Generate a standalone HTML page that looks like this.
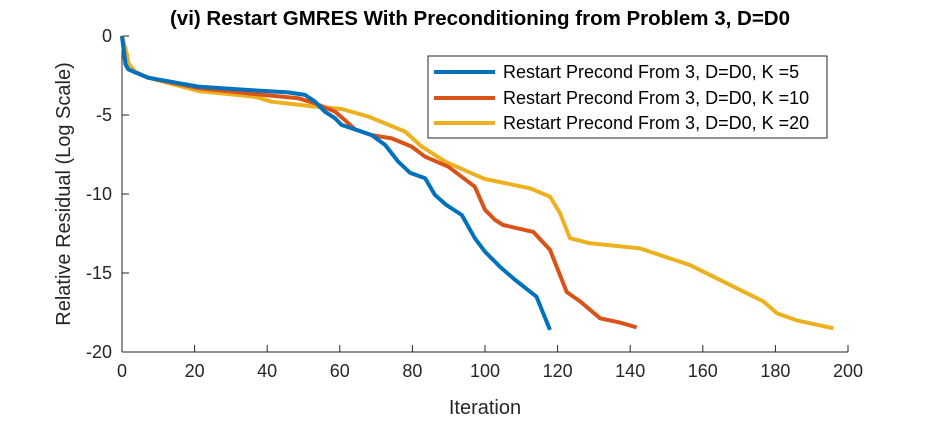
<!DOCTYPE html>
<html><head><meta charset="utf-8"><style>
body{margin:0;background:#fff;width:938px;height:420px;overflow:hidden}
svg text{font-family:"Liberation Sans",Arial,sans-serif;fill:#262626}
</style></head><body>
<svg id="chart" width="938" height="420" xmlns="http://www.w3.org/2000/svg">
<text x="480" y="25" text-anchor="middle" font-size="20.5" font-weight="bold" style="fill:#000">(vi) Restart GMRES With Preconditioning from Problem 3, D=D0</text>
<g id="axes"></g>
<g id="series"></g>
<text x="485" y="414" text-anchor="middle" font-size="20">Iteration</text>
<text transform="translate(70,194) rotate(-90)" text-anchor="middle" font-size="20">Relative Residual (Log Scale)</text>
<g>
<rect x="428" y="56" width="399" height="82" fill="#fff" stroke="#262626" stroke-width="1"/>
<line x1="434" y1="72" x2="495" y2="72" stroke="#0072BD" stroke-width="4"/>
<text x="503" y="78" font-size="18" style="fill:#000">Restart Precond From 3, D=D0, K =5</text>
<line x1="434" y1="98" x2="495" y2="98" stroke="#D95319" stroke-width="4"/>
<text x="503" y="104" font-size="18" style="fill:#000">Restart Precond From 3, D=D0, K =10</text>
<line x1="434" y1="123" x2="495" y2="123" stroke="#EDB120" stroke-width="4"/>
<text x="503" y="129" font-size="18" style="fill:#000">Restart Precond From 3, D=D0, K =20</text>
</g>
</svg>
<script>
const xTicks=[0,20,40,60,80,100,120,140,160,180,200];
const yTicks=[0,-5,-10,-15,-20];
const k5X=[0,1,1.7,3.6,7.2,21,34.8,45.8,50.4,53.2,55.9,58.7,60.5,64.2,68.8,72.5,76.1,79.3,83.5,86.2,89.4,93.6,97.2,100,102.8,104.1,107.8,114.2,117.9];
const k5Y=[0,-1.8,-2.1,-2.3,-2.64,-3.2,-3.42,-3.57,-3.73,-4.16,-4.79,-5.21,-5.63,-5.91,-6.27,-6.9,-7.95,-8.65,-9.0,-10.06,-10.7,-11.33,-12.8,-13.65,-14.3,-14.6,-15.34,-16.5,-18.6];
const k10X=[0,1,1.7,3.6,7.2,21,34.8,48.6,53.2,58.7,61.4,64.2,68.8,74.3,79.8,83.5,89.9,97.2,100,102.8,105,113.3,117.9,122.5,126.2,131.7,137.2,141.8];
const k10Y=[0,-1.8,-2.1,-2.3,-2.64,-3.3,-3.63,-3.94,-4.26,-4.79,-5.32,-5.91,-6.27,-6.48,-7.0,-7.64,-8.27,-9.54,-11.0,-11.65,-11.96,-12.4,-13.54,-16.2,-16.8,-17.87,-18.14,-18.44];
const k20X=[0,1.4,1.7,3.6,7.2,21,36.6,41.2,53.2,60.5,67.9,78,82.6,89,96.3,100,112.4,117.9,120.7,123.4,128.9,142.7,156.5,162,176.7,180.4,185.9,196];
const k20Y=[0,-1.2,-1.7,-2.26,-2.64,-3.48,-3.84,-4.16,-4.47,-4.62,-5.1,-6.05,-7.0,-7.95,-8.69,-9.05,-9.64,-10.17,-11.22,-12.8,-13.12,-13.44,-14.5,-15.13,-16.8,-17.55,-18.0,-18.5];
const X=v=>122+v*3.63, Y=v=>36-v*15.8;
const NS="http://www.w3.org/2000/svg";
const ax=document.getElementById('axes');
function mk(t,a,p){const e=document.createElementNS(NS,t);for(const k in a)e.setAttribute(k,a[k]);p.appendChild(e);return e;}
let l=mk('line',{x1:122,y1:352,x2:848,y2:352,stroke:'#262626'},ax);


l=mk('line',{x1:122,y1:36,x2:122,y2:352,stroke:'#262626'},ax);


xTicks.forEach(t=>{
 const tk=mk('line',{x1:X(t),y1:352,x2:X(t),y2:345,stroke:'#262626'},ax);
 
 
 const tx=mk('text',{x:X(t),y:377,'text-anchor':'middle','font-size':18},ax);tx.textContent=t;
 
 
});
yTicks.forEach(t=>{
 const tk=mk('line',{x1:122,y1:Y(t),x2:129,y2:Y(t),stroke:'#262626'},ax);
 
 
 const tx=mk('text',{x:112,y:Y(t)+6,'text-anchor':'end','font-size':18},ax);tx.textContent=t;
 
 
});
const sg=document.getElementById('series');
[[k5X,k5Y,'#0072BD','series-k5'],[k10X,k10Y,'#D95319','series-k10'],[k20X,k20Y,'#EDB120','series-k20']].reverse().forEach(s=>{
 const d=s[0].map((x,i)=>(i?'L':'M')+X(x).toFixed(1)+' '+Y(s[1][i]).toFixed(1)).join('');
 const p=mk('path',{d:d,fill:'none',stroke:s[2],'stroke-width':4,'stroke-linejoin':'round'},sg);
 
 
});
</script>
</body></html>
